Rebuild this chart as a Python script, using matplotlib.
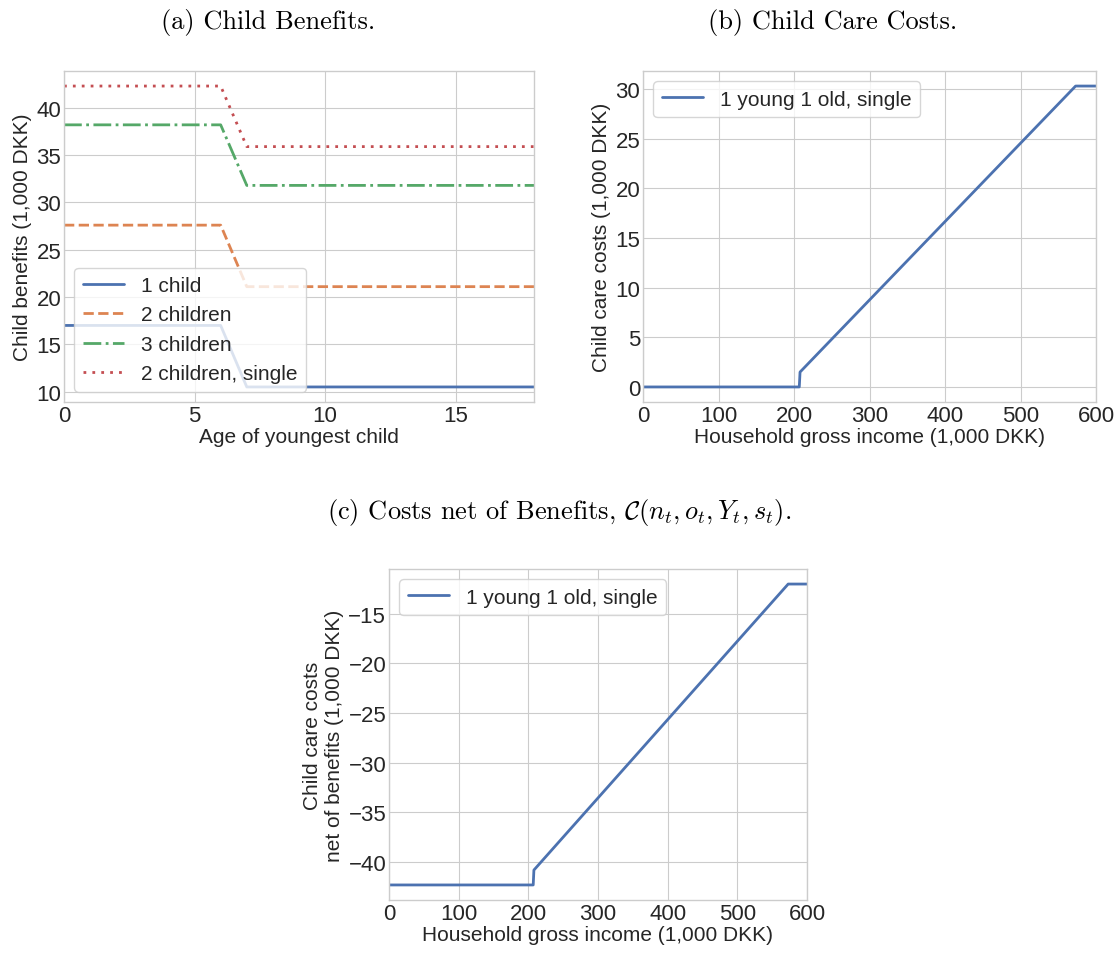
import numpy as np
import matplotlib
matplotlib.use("Agg")
import matplotlib.pyplot as plt

plt.style.use("seaborn-v0_8-whitegrid")
plt.rcParams["font.family"] = ["Liberation Sans", "DejaVu Sans"]
plt.rcParams["mathtext.fontset"] = "cm"

# (a) child benefits by age of youngest child
ages = list(range(19))
one_child = [17.0] * 7 + [10.5] * 12
two_children = [27.6] * 7 + [21.1] * 12
three_children = [38.2] * 7 + [31.8] * 12
two_children_single = [42.3] * 7 + [35.9] * 12

# (b) child care costs vs household gross income
income = [0, 207, 208, 573, 600]
care_costs = [0.0, 0.0, 1.5, 30.3, 30.3]

# (c) costs net of benefits
net_costs = [-42.3, -42.3, -40.8, -12.0, -12.0]

W, H = 1118, 954
fig = plt.figure(figsize=(W / 100, H / 100), dpi=100)

def box(l, t, r, b):
    return [l / W, 1 - b / H, (r - l) / W, (b - t) / H]

blue, orange, green, red = "#4C72B0", "#DD8452", "#55A868", "#C44E52"
lw = 2.0
tick_fs = 16
lab_fs = 15

def style(ax):
    ax.tick_params(labelsize=tick_fs, pad=2, colors=".15")
    for s in ax.spines.values():
        s.set_color(".8")

# panel a
ax1 = fig.add_axes(box(64, 72, 534, 403))
ax1.plot(ages, one_child, color=blue, lw=lw, ls="-", label="1 child")
ax1.plot(ages, two_children, color=orange, lw=lw, ls="--", label="2 children")
ax1.plot(ages, three_children, color=green, lw=lw, ls="-.", label="3 children")
ax1.plot(ages, two_children_single, color=red, lw=lw, ls=(0, (1, 2.2)), label="2 children, single")
ax1.set_xlim(0, 18)
ax1.set_xticks([0, 5, 10, 15])
ax1.set_yticks([10, 15, 20, 25, 30, 35, 40])
ax1.set_xlabel("Age of youngest child", fontsize=lab_fs, labelpad=1)
ax1.set_ylabel("Child benefits (1,000 DKK)", fontsize=lab_fs, labelpad=3)
ax1.legend(loc="lower left", fontsize=lab_fs, frameon=True)
style(ax1)

# panel b
ax2 = fig.add_axes(box(643, 72, 1096, 403))
ax2.plot(income, care_costs, color=blue, lw=lw, label="1 young 1 old, single")
ax2.set_xlim(0, 600)
ax2.set_xticks([0, 100, 200, 300, 400, 500, 600])
ax2.set_yticks([0, 5, 10, 15, 20, 25, 30])
ax2.set_xlabel("Household gross income (1,000 DKK)", fontsize=lab_fs, labelpad=1)
ax2.set_ylabel("Child care costs (1,000 DKK)", fontsize=lab_fs, labelpad=3)
ax2.legend(loc="upper left", fontsize=lab_fs, frameon=True)
style(ax2)

# panel c
ax3 = fig.add_axes(box(389, 570, 807, 901))
ax3.plot(income, net_costs, color=blue, lw=lw, label="1 young 1 old, single")
ax3.set_xlim(0, 600)
ax3.set_xticks([0, 100, 200, 300, 400, 500, 600])
ax3.set_yticks([-40, -35, -30, -25, -20, -15])
ax3.set_xlabel("Household gross income (1,000 DKK)", fontsize=lab_fs, labelpad=1)
ax3.set_ylabel("Child care costs\nnet of benefits (1,000 DKK)", fontsize=lab_fs, labelpad=3)
ax3.legend(loc="upper left", fontsize=lab_fs, frameon=True)
style(ax3)

# subfigure captions
cap = dict(family="cmr10", fontsize=19, ha="center", va="center", color="black")
fig.text(268 / W, 1 - 22 / H, "(a) Child Benefits.", **cap)
fig.text(833 / W, 1 - 22 / H, "(b) Child Care Costs.", **cap)
fig.text(559 / W, 1 - 513 / H, r"(c) Costs net of Benefits, $\mathcal{C}(n_t, o_t, Y_t, s_t)$.", **cap)

fig.savefig("out.png", dpi=100)
